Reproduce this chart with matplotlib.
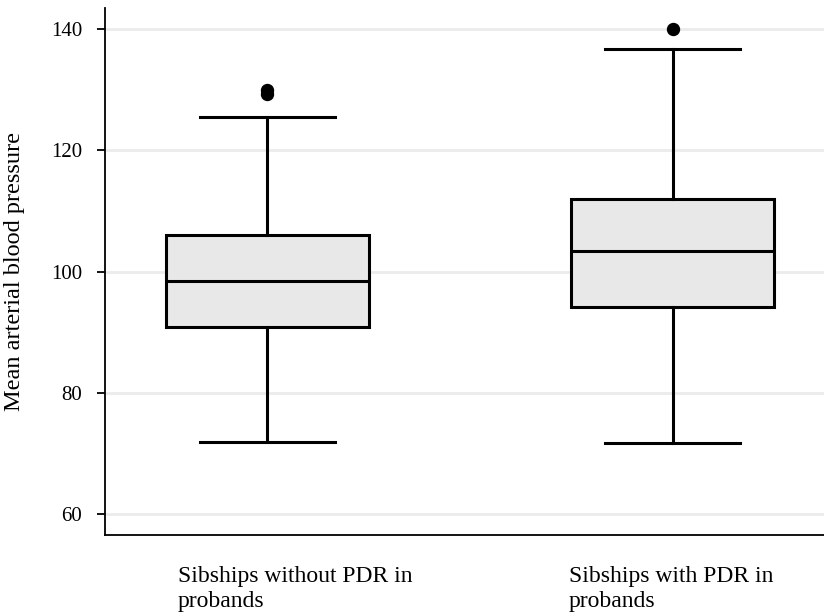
import matplotlib

matplotlib.use("Agg")
import matplotlib.pyplot as plt
from matplotlib.transforms import blended_transform_factory

plt.rcParams.update(
    {
        "font.family": ["Liberation Serif", "DejaVu Serif"],
        "font.size": 15,
    }
)

# ---------------------------------------------------------------------------
# Data
# ---------------------------------------------------------------------------
groups = ["Sibships without PDR in\nprobands", "Sibships with PDR in\nprobands"]
whislo = [71.8, 71.7]
q1 = [90.9, 94.1]
med = [98.4, 103.3]
q3 = [106.0, 111.9]
whishi = [125.5, 136.7]
fliers = [[130.0, 129.2], [140.0]]

y_ticks = [60, 80, 100, 120, 140]

stats = [
    {
        "whislo": whislo[i],
        "q1": q1[i],
        "med": med[i],
        "q3": q3[i],
        "whishi": whishi[i],
        "fliers": fliers[i],
        "label": groups[i],
    }
    for i in range(len(groups))
]
positions = [1, 2]

fig = plt.figure(figsize=(8.24, 6.16), dpi=100)
ax = fig.add_axes([0.1274, 0.1315, 0.8726, 0.8555])

ax.bxp(
    stats,
    positions=positions,
    widths=0.5,
    capwidths=0.333,
    patch_artist=True,
    boxprops=dict(facecolor="#e8e8e8", edgecolor="black", linewidth=2.2),
    medianprops=dict(color="black", linewidth=2.2),
    whiskerprops=dict(color="black", linewidth=2.2),
    capprops=dict(color="black", linewidth=2.2),
    flierprops=dict(
        marker="o", markerfacecolor="black", markeredgecolor="black", markersize=8.6
    ),
    zorder=3,
)

ax.set_xlim(0.6, 2.373)
ax.set_ylim(56.54, 143.46)
ax.set_yticks(y_ticks)
ax.yaxis.grid(True, color="#ebebeb", linewidth=2.0, zorder=0)
ax.set_axisbelow(True)

for side in ("top", "right"):
    ax.spines[side].set_visible(False)
ax.spines["left"].set_linewidth(1.3)
ax.spines["bottom"].set_linewidth(1.3)

ax.tick_params(axis="y", length=5.8, width=1.3, labelsize=15, pad=10.5)
ax.set_xticks([])

ax.set_ylabel("Mean arterial blood pressure", fontsize=17.5)
ax.yaxis.set_label_coords(-0.111, 0.5)

# group labels sit left-aligned below the axis
label_x = [0.78, 1.743]
trans = blended_transform_factory(ax.transData, ax.transAxes)
for x, lab in zip(label_x, groups):
    ax.text(
        x,
        -0.058,
        lab,
        transform=trans,
        ha="left",
        va="top",
        fontsize=17,
        linespacing=1.3,
    )

fig.savefig("out.png", dpi=100)
